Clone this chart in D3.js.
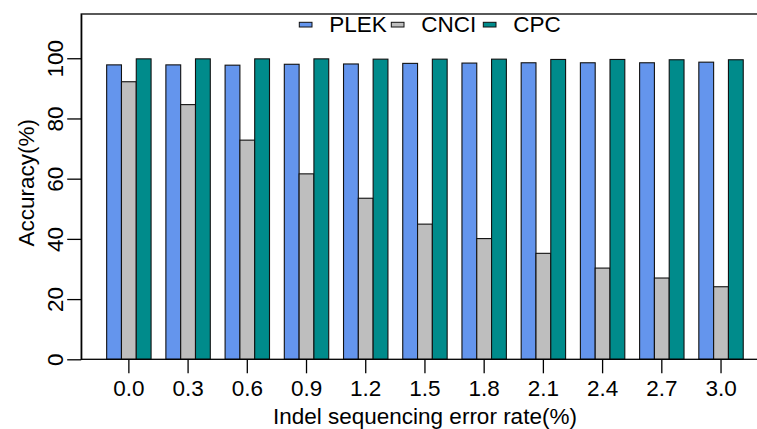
<!DOCTYPE html>
<html>
<head>
<meta charset="utf-8">
<script src="https://cdn.jsdelivr.net/npm/d3@7"></script>
<style>
  body { margin: 0; background: #fff; }
  text { font-family: "Liberation Sans", Arial, sans-serif; }
</style>
</head>
<body>
<div id="maViz"></div>
<script>
// Données
const categories = ["0.0", "0.3", "0.6", "0.9", "1.2", "1.5", "1.8", "2.1", "2.4", "2.7", "3.0"];
const series = ["PLEK", "CNCI", "CPC"];
const plek = [97.8, 97.8, 97.7, 98.0, 98.1, 98.3, 98.4, 98.5, 98.5, 98.5, 98.7];
const cnci = [92.2, 84.6, 72.8, 61.6, 53.5, 44.9, 40.1, 35.2, 30.3, 27.0, 24.1];
const cpc  = [99.8, 99.8, 99.8, 99.8, 99.7, 99.7, 99.7, 99.6, 99.6, 99.5, 99.5];
const yTicks = [0, 20, 40, 60, 80, 100];

const colors = {PLEK: "#6495ED", CNCI: "#BEBEBE", CPC: "#008B8B"};
const values = {PLEK: plek, CNCI: cnci, CPC: cpc};

// dimensions
const W = 757, H = 429;
const margin = {left: 81.2, right: 768.7, top: 14, bottom: 359.3};
const fs = 22.5;

const svg = d3.select("#maViz").append("svg")
  .attr("width", W).attr("height", H);

// échelles
const x0 = d3.scaleBand()
  .domain(categories)
  .range([margin.left, margin.right])
  .paddingInner(0.25)
  .paddingOuter(0.43);

const x1 = d3.scaleBand()
  .domain(series)
  .range([0, x0.bandwidth()]);

const y = d3.scaleLinear()
  .domain([0, 114.7])
  .range([margin.bottom, margin.top]);

// barres
const table = categories.map((c, i) => ({cat: c, vals: series.map(s => ({s: s, v: values[s][i]}))}));

svg.append("g").selectAll("g")
  .data(table)
  .join("g")
    .attr("transform", d => `translate(${x0(d.cat)},0)`)
  .selectAll("rect")
  .data(d => d.vals)
  .join("rect")
    .attr("x", d => x1(d.s))
    .attr("width", x1.bandwidth())
    .attr("y", d => y(d.v))
    .attr("height", d => y(0) - y(d.v))
    .attr("fill", d => colors[d.s])
    .attr("stroke", "#111")
    .attr("stroke-width", 1.1);

// cadre
svg.append("rect")
  .attr("x", margin.left).attr("y", margin.top)
  .attr("width", margin.right - margin.left).attr("height", margin.bottom - margin.top)
  .attr("fill", "none").attr("stroke", "#000").attr("stroke-width", 1.3);

// axe Y
const gy = svg.append("g")
  .attr("transform", `translate(${margin.left},0)`)
  .call(d3.axisLeft(y).tickValues(yTicks).tickSize(14).tickSizeOuter(0));
gy.select(".domain").attr("stroke-width", 1.3);
gy.selectAll(".tick line").attr("stroke-width", 1.3);
gy.selectAll(".tick text")
  .attr("x", 0).attr("y", -18).attr("dy", 0)
  .attr("transform", "rotate(-90)")
  .attr("text-anchor", "middle")
  .style("font-size", fs + "px")
  .attr("fill", "#000");

// axe X
const gx = svg.append("g")
  .attr("transform", `translate(0,${margin.bottom})`)
  .call(d3.axisBottom(x0).tickSize(14).tickSizeOuter(0));
gx.select(".domain").remove();
gx.selectAll(".tick line").attr("stroke-width", 1.3);
gx.selectAll(".tick text")
  .attr("y", 36.7).attr("dy", 0)
  .style("font-size", fs + "px")
  .attr("fill", "#000");

// titres des axes
svg.append("text")
  .attr("x", (margin.left + margin.right) / 2).attr("y", 424)
  .attr("text-anchor", "middle")
  .style("font-size", fs + "px")
  .text("Indel sequencing error rate(%)");

svg.append("text")
  .attr("transform", `translate(33.5,${(margin.top + margin.bottom) / 2 - 4}) rotate(-90)`)
  .attr("text-anchor", "middle")
  .style("font-size", fs + "px")
  .text("Accuracy(%)");

// légende
const legend = svg.append("g").selectAll("g")
  .data(series)
  .join("g")
    .attr("transform", (d, i) => `translate(${299.3 + i * 92},0)`);
legend.append("rect")
  .attr("x", 0).attr("y", 22.3)
  .attr("width", 12.7).attr("height", 4.7)
  .attr("fill", d => colors[d])
  .attr("stroke", "#111").attr("stroke-width", 1);
legend.append("text")
  .attr("x", 30).attr("y", 32.3)
  .style("font-size", fs + "px")
  .text(d => d);
</script>
</body>
</html>
